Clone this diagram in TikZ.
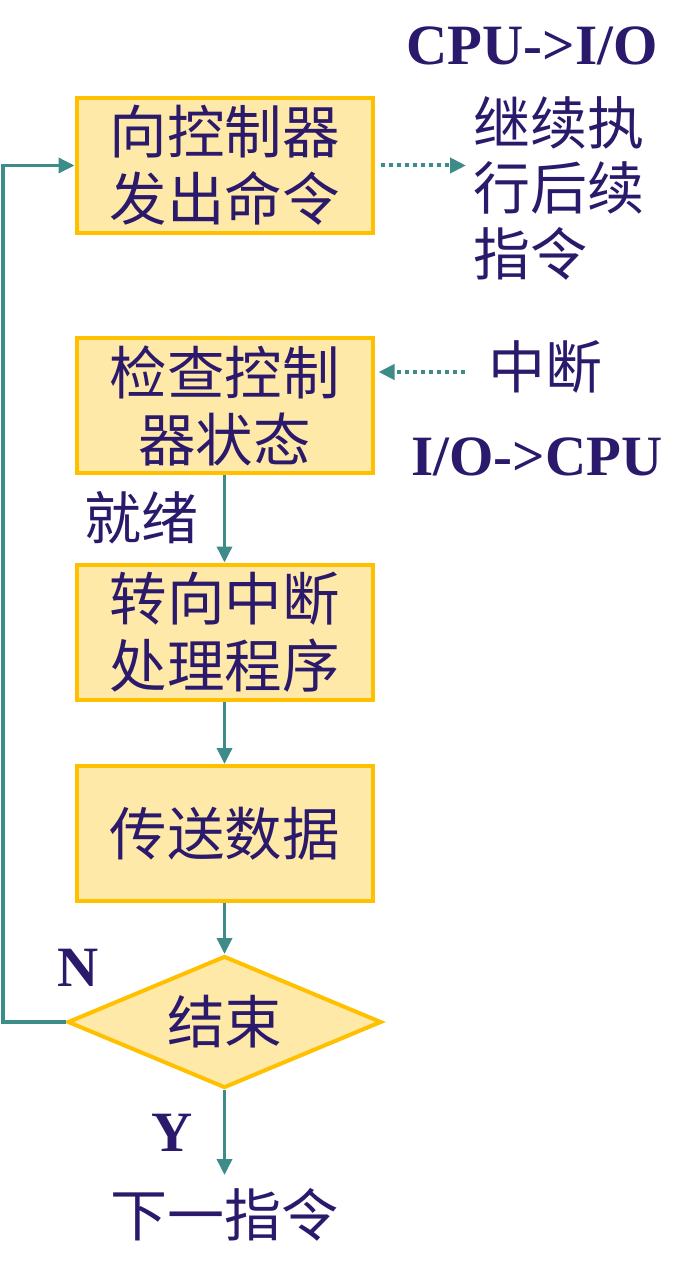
\documentclass[tikz,border=0pt]{standalone}
\usepackage{fontspec}
\setmainfont{Liberation Serif}
\newfontfamily\cjk{Noto Sans CJK SC}
\usetikzlibrary{shapes.geometric,arrows.meta}
\definecolor{txt}{HTML}{2B1A6B}
\definecolor{boxfill}{HTML}{FFE9A8}
\definecolor{boxline}{HTML}{FFC000}
\definecolor{teal}{HTML}{3E8C8A}
\tikzset{
  stepbox/.style={draw=boxline, fill=boxfill, line width=4pt, minimum width=296pt, minimum height=135pt, inner sep=0pt, align=center, text=txt, font=\cjk\fontsize{57.5}{67}\selectfont},
  decbox/.style={diamond, aspect=2.38, draw=boxline, fill=boxfill, line width=4pt, minimum width=314pt, minimum height=132pt, inner sep=0pt, text=txt, font=\cjk\fontsize{57.5}{67}\selectfont},
  cjktext/.style={text=txt, inner sep=0pt, font=\cjk\fontsize{57}{66}\selectfont},
  lattext/.style={text=txt, inner sep=0pt, font=\bfseries\fontsize{57}{60}\selectfont},
  flow/.style={draw=teal, line width=3.5pt, -{Triangle[length=16pt,width=15pt]}},
  dotflow/.style={draw=teal, line width=4pt, dash pattern=on 4pt off 4pt, -{Triangle[length=16pt,width=15pt]}},
  plainflow/.style={draw=teal, line width=3.5pt}
}
\begin{document}
\begin{tikzpicture}[x=1pt,y=-1pt]
\useasboundingbox (0,0) rectangle (690,1265);
\node[stepbox] (b1) at (224.5,165.5) {向控制器\\发出命令};
\node[stepbox] (b2) at (224.5,405.5) {检查控制\\器状态};
\node[stepbox] (b3) at (224.5,632) {转向中断\\处理程序};
\node[stepbox] (b4) at (224.5,833.5) {传送数据};
\node[decbox] (d) at (224.5,1022) {结束};
\node[cjktext] (next) at (224.5,1215) {下一指令};
\node[cjktext] (ready) at (141,518) {就绪};
\node[cjktext] (intr) at (545,367) {中断};
\node[cjktext, align=left, font=\cjk\fontsize{57}{65.5}\selectfont, anchor=north west] (cont) at (473,96) {继续执\\行后续\\指令};
\node[lattext] (cpuio) at (532,46) {CPU->I/O};
\node[lattext] (iocpu) at (537,457) {I/O->CPU};
\node[lattext] (nlab) at (78,968) {N};
\node[lattext] (ylab) at (172,1133) {Y};
\coordinate (outend) at (466,165.5);
\coordinate (instart) at (465,372);
\coordinate (lp) at (3,1022);
\coordinate (nextin) at (224.5,1175);
\draw[dotflow] ([xshift=6pt]b1.east) -- (outend);
\draw[dotflow] (instart) -- ([xshift=4pt]b2.east |- instart);
\draw[flow] (b2.south) -- (b3.north);
\draw[flow] (b3.south) -- (b4.north);
\draw[flow] (b4.south) -- (d.north);
\draw[flow] (d.south) -- (nextin);
\draw[plainflow, -{Triangle[length=16pt,width=15pt]}] (d.west) -- (lp) |- (b1.west);
\end{tikzpicture}
\end{document}
